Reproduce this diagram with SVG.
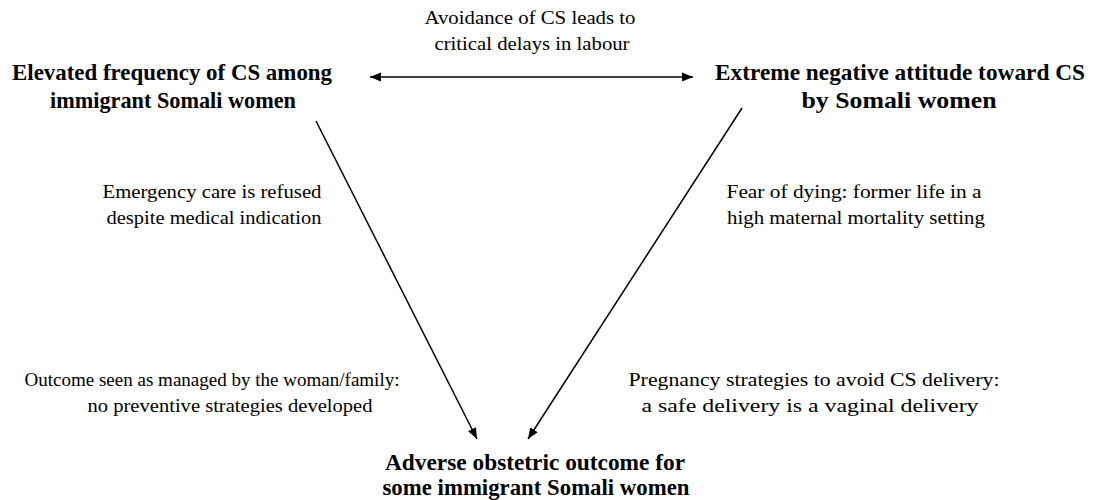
<svg xmlns="http://www.w3.org/2000/svg" width="1099" height="500" viewBox="0 0 1099 500">
<style>
.t{font-family:"Liberation Serif","Times New Roman",serif;font-size:18px;fill:#000;text-anchor:middle}
.b{font-family:"Liberation Serif","Times New Roman",serif;font-size:23px;font-weight:bold;fill:#000;text-anchor:middle}
.c{stroke:#000;stroke-width:1.5;fill:none}
</style>
<defs>
<marker id="ah" viewBox="0 0 10 10" refX="10" refY="5" markerWidth="11" markerHeight="11" markerUnits="userSpaceOnUse" orient="auto-start-reverse">
<path d="M0,1 L10,5 L0,9 z" fill="#000"/>
</marker>
</defs>
<rect width="1099" height="500" fill="#fff"/>
<g id="node-elevated">
<text class="b" x="172" y="80" textLength="320" lengthAdjust="spacingAndGlyphs">Elevated frequency of CS among</text>
<text class="b" x="173" y="108" textLength="246" lengthAdjust="spacingAndGlyphs">immigrant Somali women</text>
</g>
<g id="node-extreme">
<text class="b" x="900" y="80" textLength="370" lengthAdjust="spacingAndGlyphs">Extreme negative attitude toward CS</text>
<text class="b" x="899" y="108" textLength="195" lengthAdjust="spacingAndGlyphs">by Somali women</text>
</g>
<g id="node-adverse">
<text class="b" x="535" y="470" textLength="300" lengthAdjust="spacingAndGlyphs">Adverse obstetric outcome for</text>
<text class="b" x="536" y="495" textLength="307" lengthAdjust="spacingAndGlyphs">some immigrant Somali women</text>
</g>
<g id="label-avoidance">
<text class="t" x="530" y="24" textLength="211" lengthAdjust="spacingAndGlyphs">Avoidance of CS leads to</text>
<text class="t" x="532" y="50" textLength="195" lengthAdjust="spacingAndGlyphs">critical delays in labour</text>
</g>
<g id="label-emergency">
<text class="t" x="212" y="198" textLength="219" lengthAdjust="spacingAndGlyphs">Emergency care is refused</text>
<text class="t" x="214" y="224" textLength="215" lengthAdjust="spacingAndGlyphs">despite medical indication</text>
</g>
<g id="label-fear">
<text class="t" x="854" y="198" textLength="255" lengthAdjust="spacingAndGlyphs">Fear of dying: former life in a</text>
<text class="t" x="856" y="224" textLength="258" lengthAdjust="spacingAndGlyphs">high maternal mortality setting</text>
</g>
<g id="label-outcome">
<text class="t" x="212" y="386" textLength="375" lengthAdjust="spacingAndGlyphs">Outcome seen as managed by the woman/family:</text>
<text class="t" x="230" y="412" textLength="285" lengthAdjust="spacingAndGlyphs">no preventive strategies developed</text>
</g>
<g id="label-pregnancy">
<text class="t" x="814" y="386" textLength="371" lengthAdjust="spacingAndGlyphs">Pregnancy strategies to avoid CS delivery:</text>
<text class="t" x="810" y="412" textLength="337" lengthAdjust="spacingAndGlyphs">a safe delivery is a vaginal delivery</text>
</g>
<g id="connectors">
<line class="c" x1="370" y1="77" x2="693" y2="77" marker-start="url(#ah)" marker-end="url(#ah)"/>
<line class="c" x1="316" y1="121" x2="477" y2="439" marker-end="url(#ah)"/>
<line class="c" x1="742" y1="108" x2="528" y2="439" marker-end="url(#ah)"/>
</g>
</svg>
